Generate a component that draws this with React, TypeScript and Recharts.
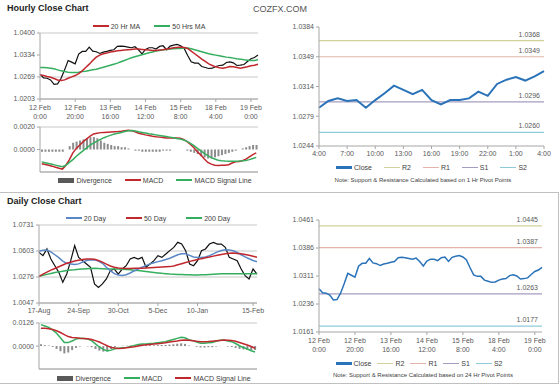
import React from 'react';
import {
  ComposedChart,
  Line,
  Bar,
  XAxis,
  YAxis,
  CartesianGrid,
  ReferenceLine,
} from 'recharts';

const FONT = '"Liberation Sans", Arial, sans-serif';
const AXIS = '#a6a6a6';
const GRID = '#c8c8c8';
const TEXT = '#595959';
const RED = '#c0282e';
const GREEN = '#36ae5f';
const BLUE = '#5a87c5';
const CLOSE_BLUE = '#2a73b8';

// ---- hourly (12 Feb 0:00 .. 19 Feb, every 2 hours) ----
const hourlyClose = [
  1.0277, 1.0266, 1.0265, 1.026, 1.0247, 1.0248, 1.0265, 1.029, 1.0318, 1.0313,
  1.0308, 1.0337, 1.0345, 1.0345, 1.0358, 1.0346, 1.0344, 1.0339, 1.0343, 1.0345,
  1.0348, 1.035, 1.036, 1.0361, 1.036, 1.0358, 1.0356, 1.0359, 1.035, 1.0338,
  1.0351, 1.0356, 1.0356, 1.0352, 1.036, 1.0362, 1.035, 1.0361, 1.0364, 1.0366,
  1.0362, 1.0354, 1.0333, 1.0314, 1.031, 1.031, 1.03, 1.0297, 1.0294, 1.0295,
  1.03, 1.0303, 1.0304, 1.0312, 1.0314, 1.0311, 1.0303, 1.0304, 1.0306, 1.0315,
  1.0323, 1.0327, 1.0334,
];
const hourlyMa20 = [
  1.0275, 1.0273, 1.027, 1.0268, 1.0264, 1.026, 1.0258, 1.026, 1.0265, 1.0269,
  1.0273, 1.0279, 1.0287, 1.0297, 1.0307, 1.0318, 1.0328, 1.0334, 1.0338, 1.034,
  1.0343, 1.0345, 1.0347, 1.0348, 1.0349, 1.035, 1.0351, 1.0352, 1.0352, 1.0351,
  1.035, 1.0349, 1.0348, 1.0348, 1.0349, 1.035, 1.0352, 1.0354, 1.0356, 1.0357,
  1.0358, 1.0357, 1.0354, 1.0346, 1.0338, 1.033, 1.0322, 1.0315, 1.0308, 1.0303,
  1.0299, 1.0296, 1.0295, 1.0297, 1.03, 1.0299, 1.0297, 1.0295, 1.0297, 1.0299,
  1.0302, 1.0304, 1.0307,
];
const hourlyMa50 = [
  1.0297, 1.0297, 1.0296, 1.0295, 1.0293, 1.029, 1.0287, 1.0285, 1.0283, 1.0282,
  1.0282, 1.0283, 1.0285, 1.0286, 1.0288, 1.029, 1.0292, 1.0295, 1.0298, 1.0301,
  1.0304, 1.0307, 1.031, 1.0314, 1.0318, 1.0322, 1.0326, 1.0329, 1.0332, 1.0335,
  1.0338, 1.0341, 1.0343, 1.0346, 1.0348, 1.035, 1.0351, 1.0352, 1.0353, 1.0354,
  1.0354, 1.0355, 1.0355, 1.0353, 1.035, 1.0347, 1.0344, 1.0341, 1.0338, 1.0336,
  1.0334, 1.0332, 1.033, 1.0328, 1.0327, 1.0325, 1.0323, 1.0322, 1.032, 1.0319,
  1.0318, 1.0318, 1.032,
];
const hourlyMacd = [
  -0.00126, -0.00133, -0.0014, -0.00148, -0.00157, -0.00166, -0.00174, -0.0014, -0.0009, -0.0003,
  0.0001, 0.0004, 0.0007, 0.00095, 0.0012, 0.00138, 0.00145, 0.0015, 0.00152, 0.00154,
  0.00156, 0.00158, 0.0016, 0.00163, 0.00167, 0.0017, 0.00166, 0.00158, 0.00145, 0.00137,
  0.0013, 0.00124, 0.00118, 0.00113, 0.0011, 0.00106, 0.00103, 0.00102, 0.00102, 0.00102,
  0.001, 0.0009, 0.0007, 0.00045, 0.00015, -0.0002, -0.0005, -0.00085, -0.00115, -0.0013,
  -0.0014, -0.00142, -0.00141, -0.0014, -0.00135, -0.0012, -0.0011, -0.00106, -0.001, -0.00085,
  -0.00065, -0.00045, -0.0003,
];
const hourlySignal = [
  -0.0011, -0.00117, -0.00124, -0.00131, -0.00139, -0.00146, -0.00153, -0.0014, -0.00115, -0.0009,
  -0.0006, -0.00035, -0.0001, 0.00015, 0.00038, 0.00058, 0.00075, 0.0009, 0.00105, 0.00117,
  0.00128, 0.00137, 0.00145, 0.00152, 0.0016, 0.00166, 0.00168, 0.00165, 0.00158, 0.00152,
  0.00146, 0.0014, 0.00135, 0.0013, 0.00125, 0.0012, 0.00115, 0.0011, 0.00104, 0.00098,
  0.00093, 0.00085, 0.00072, 0.00055, 0.00035, 0.0001, -0.00012, -0.00035, -0.00055, -0.00072,
  -0.00085, -0.00095, -0.001, -0.00103, -0.00105, -0.00105, -0.00104, -0.00103, -0.00101, -0.00098,
  -0.0009, -0.0008, -0.0007,
];
const hourlyDivergence = [
  -0.0002, -0.0002, -0.0002, -0.0002, -0.0002, -0.0002, -0.0002, 0.0, 0.0003, 0.0006,
  0.0007, 0.0008, 0.0009, 0.001, 0.0011, 0.0011, 0.001, 0.0008, 0.0006, 0.0005,
  0.0004, 0.0003, 0.0003, 0.0002, 0.0002, 0.0001, 0.0, -0.0001, -0.0001, -0.0002,
  -0.0002, -0.0002, -0.0002, -0.0002, -0.0002, -0.0001, -0.0001, -0.0001, 0.0, 0.0,
  0.0, 0.0, -0.0001, -0.0002, -0.0003, -0.0004, -0.0006, -0.0007, -0.0008, -0.0008,
  -0.0007, -0.0006, -0.0005, -0.0004, -0.0003, -0.0002, -0.0001, 0.0, 0.0001, 0.0002,
  0.0003, 0.0004, 0.0004,
];
const hourTicks = [0, 20, 40, 60, 80, 100, 120];
const hourTickDates = ['12 Feb', '12 Feb', '13 Feb', '14 Feb', '15 Feb', '18 Feb', '19 Feb'];
const hourTickTimes = ['0:00', '20:00', '16:00', '12:00', '8:00', '4:00', '0:00'];

// ---- last 24 hours, 1 Hr pivots ----
const lastDayClose = [
  1.0289, 1.0297, 1.03, 1.0297, 1.0298, 1.0289, 1.0298, 1.0306, 1.0315, 1.031,
  1.0305, 1.031, 1.0298, 1.0293, 1.0298, 1.0298, 1.03, 1.0308, 1.0303, 1.0317,
  1.0322, 1.0325, 1.0321, 1.0326, 1.0332,
];
const lastDayLabels = [
  '4:00', '5:00', '6:00', '7:00', '8:00', '9:00', '10:00', '11:00', '12:00', '13:00',
  '14:00', '15:00', '16:00', '17:00', '18:00', '19:00', '20:00', '21:00', '22:00', '23:00',
  '0:00', '1:00', '2:00', '3:00', '4:00',
];
const pivotNames = ['R2', 'R1', 'S1', 'S2'];
const pivotColors = ['#d2d29c', '#e2b4ac', '#a59cc0', '#8ecbd9'];
const hourPivots = [1.0368, 1.0349, 1.0296, 1.026];
const dayPivots = [1.0445, 1.0387, 1.0263, 1.0177];

// ---- daily (17 Aug .. 15 Feb) ----
const dailyClose = [
  1.0491, 1.0462, 1.0521, 1.0433, 1.0374, 1.0316, 1.0228, 1.0301, 1.0418, 1.055,
  1.0447, 1.0418, 1.0389, 1.036, 1.0214, 1.0184, 1.0214, 1.0258, 1.0331, 1.0345,
  1.0301, 1.0345, 1.0374, 1.0433, 1.0447, 1.0433, 1.0447, 1.036, 1.0389, 1.0418,
  1.0462, 1.0447, 1.0477, 1.0506, 1.0535, 1.0579, 1.0564, 1.0506, 1.0389, 1.0374,
  1.0418, 1.0506, 1.0521, 1.0564, 1.0579, 1.0564, 1.0564, 1.0535, 1.0447, 1.0433,
  1.0418, 1.0345, 1.0287, 1.0258, 1.0345, 1.0301,
];
const daily20 = [
  1.05, 1.051, 1.0512, 1.0495, 1.047, 1.0445, 1.0415, 1.0395, 1.0388, 1.0385,
  1.039, 1.0405, 1.042, 1.0427, 1.0425, 1.0415, 1.0395, 1.036, 1.033, 1.0305,
  1.0292, 1.0289, 1.0295, 1.031, 1.0328, 1.0345, 1.036, 1.0375, 1.039, 1.04,
  1.041, 1.0418, 1.0428, 1.044, 1.0455, 1.047, 1.0478, 1.0478, 1.0465, 1.045,
  1.0445, 1.0445, 1.045, 1.0462, 1.0478, 1.0495, 1.0508, 1.0514, 1.0512, 1.0505,
  1.049, 1.047, 1.0452, 1.0435, 1.042, 1.0408,
];
const daily50 = [
  1.0281, 1.03, 1.0318, 1.0335, 1.035, 1.0365, 1.038, 1.0395, 1.0405, 1.0415,
  1.0422, 1.0428, 1.0432, 1.0433, 1.043, 1.042, 1.0405, 1.0388, 1.0372, 1.036,
  1.0354, 1.0351, 1.035, 1.035, 1.0351, 1.0351, 1.0352, 1.0354, 1.0356, 1.0358,
  1.036, 1.0362, 1.0364, 1.0366, 1.0372, 1.0382, 1.0392, 1.0402, 1.0412, 1.042,
  1.0428, 1.0436, 1.0443, 1.045, 1.0458, 1.0465, 1.0472, 1.0478, 1.0483, 1.0485,
  1.0482, 1.0478, 1.0472, 1.0465, 1.0457, 1.0448,
];
const daily200 = [
  1.0281, 1.029, 1.0298, 1.0306, 1.0314, 1.032, 1.0326, 1.0332, 1.0336, 1.0339,
  1.0343, 1.0346, 1.0348, 1.035, 1.0351, 1.035, 1.0348, 1.0346, 1.0345, 1.0345,
  1.0345, 1.0344, 1.0341, 1.0338, 1.0335, 1.0331, 1.0327, 1.0323, 1.0319, 1.0315,
  1.0311, 1.0307, 1.0304, 1.0301, 1.0299, 1.0297, 1.0296, 1.0295, 1.0294, 1.0293,
  1.0293, 1.0294, 1.0295, 1.0297, 1.0299, 1.0301, 1.0303, 1.0304, 1.0304, 1.0304,
  1.0304, 1.0304, 1.0304, 1.0304, 1.0304, 1.0304,
];
const dailyMacd = [
  0.0117, 0.011, 0.0102, 0.0088, 0.007, 0.0045, 0.002, 0.0019, 0.0028, 0.0038,
  0.0043, 0.0042, 0.0038, 0.003, 0.0012, -0.0005, -0.0018, -0.0026, -0.0022, -0.0015,
  -0.0012, -0.0009, -0.0007, -0.0002, 0.0004, 0.0009, 0.0011, 0.0012, 0.0014, 0.0015,
  0.0018, 0.0021, 0.0024, 0.003, 0.0036, 0.0042, 0.0048, 0.0045, 0.0035, 0.003,
  0.0022, 0.0016, 0.0015, 0.0018, 0.002, 0.0026, 0.0032, 0.0033, 0.0028, 0.0024,
  0.0014, 0.0002, -0.0008, -0.0016, -0.0025, -0.0032,
];
const dailySignal = [
  0.0098, 0.0097, 0.0095, 0.0091, 0.0084, 0.0074, 0.0063, 0.0052, 0.0047, 0.0045,
  0.0043, 0.0042, 0.004, 0.0036, 0.003, 0.0022, 0.0012, 0.0002, -0.0007, -0.0011,
  -0.0013, -0.0012, -0.0009, -0.0006, -0.0003, 0.0001, 0.0005, 0.0007, 0.0009, 0.0011,
  0.0013, 0.0015, 0.0018, 0.0022, 0.0025, 0.0028, 0.0032, 0.0033, 0.0032, 0.0029,
  0.0026, 0.0024, 0.0024, 0.0025, 0.0027, 0.0029, 0.0031, 0.0033, 0.0032, 0.003,
  0.0026, 0.002, 0.0013, 0.0006, -0.0002, -0.0012,
];
const dailyDivergence = [
  0.001, 0.0005, 0.0003, -0.0005, -0.0015, -0.0028, -0.004, -0.0035, -0.0022, -0.001,
  -0.0003, 0.0, -0.0002, -0.0006, -0.0016, -0.0025, -0.003, -0.0028, -0.0016, -0.0006,
  0.0, 0.0002, 0.0002, 0.0003, 0.0005, 0.0006, 0.0006, 0.0005, 0.0005, 0.0004,
  0.0005, 0.0006, 0.0006, 0.0008, 0.001, 0.0013, 0.0015, 0.0012, 0.0003, 0.0,
  -0.0004, -0.0007, -0.0008, -0.0006, -0.0006, -0.0003, 0.0001, 0.0, -0.0003, -0.0005,
  -0.001, -0.0015, -0.0018, -0.002, -0.0022, -0.0022,
];
const dayTicks = [0, 10, 20, 30, 40, 54];
const dayTickLabels = ['17-Aug', '24-Sep', '30-Oct', '5-Dec', '10-Jan', '15-Feb'];
const dailyPriceTicks = [1.0047, 1.0275, 1.0503, 1.0731];
const dailyPriceTickLabels = ['1.0047', '1.0276', '1.0603', '1.0731'];

const hourlyRows = hourlyClose.map((c, i) => ({
  h: i * 2,
  close: c,
  ma20: hourlyMa20[i],
  ma50: hourlyMa50[i],
  macd: hourlyMacd[i],
  signal: hourlySignal[i],
  div: hourlyDivergence[i],
}));
const lastDayRows = lastDayClose.map((c, i) => ({ i, close: c }));
const dailyRows = dailyClose.map((c, i) => ({
  i,
  close: c,
  d20: daily20[i],
  d50: daily50[i],
  d200: daily200[i],
  macd: dailyMacd[i],
  signal: dailySignal[i],
  div: dailyDivergence[i],
}));

const tickStyle = { fontSize: 7, fill: TEXT };
const fmt4 = (v: number) => v.toFixed(4);

function HourTick(props: any) {
  const { x, y, payload } = props;
  const k = hourTicks.indexOf(payload.value);
  return (
    <text x={x} y={y} textAnchor="middle" fontSize={7} fill={TEXT}>
      <tspan x={x} dy={6}>{hourTickDates[k]}</tspan>
      <tspan x={x} dy={9}>{hourTickTimes[k]}</tspan>
    </text>
  );
}

type LegendItem = { label: string; color: string; kind?: 'box'; thick?: number };

function ChartLegend({ items, left, top, width, gap = 12 }: { items: LegendItem[]; left: number; top: number; width: number; gap?: number }) {
  return (
    <div
      style={{
        position: 'absolute', left, top, width, height: 10,
        display: 'flex', justifyContent: 'center', alignItems: 'center',
        fontSize: 7, color: '#404040', whiteSpace: 'nowrap',
      }}
    >
      {items.map((it, k) => (
        <span key={it.label} style={{ display: 'flex', alignItems: 'center', marginLeft: k ? gap : 0 }}>
          <span
            style={{
              display: 'inline-block', width: 16, marginRight: 2,
              height: it.kind === 'box' ? 5 : it.thick ?? 2, background: it.color,
            }}
          />
          {it.label}
        </span>
      ))}
    </div>
  );
}

const pivotLegend: LegendItem[] = [
  { label: 'Close', color: CLOSE_BLUE, thick: 3 },
  ...pivotNames.map((n, k) => ({ label: n, color: pivotColors[k], thick: 1 })),
];

function pivotLines(levels: number[]) {
  return levels.map((v, k) => (
    <ReferenceLine
      key={pivotNames[k]}
      y={v}
      stroke={pivotColors[k]}
      strokeWidth={1.2}
      label={(p: any) => (
        <text x={p.viewBox.x + p.viewBox.width - 4} y={p.viewBox.y - 4} textAnchor="end" fontSize={7} fill={TEXT}>
          {v.toFixed(4)}
        </text>
      )}
    />
  ));
}

const abs = (left: number, top: number): React.CSSProperties => ({ position: 'absolute', left, top });

export default function App() {
  return (
    <div style={{ position: 'absolute', left: 0, top: 0, width: 560, height: 386, background: '#fff', fontFamily: FONT, overflow: 'hidden' }}>
      <div style={{ ...abs(7, 3), fontSize: 9, fontWeight: 'bold', color: '#222' }}>Hourly Close Chart</div>
      <div style={{ ...abs(253, 4), fontSize: 9, color: '#555' }}>COZFX.COM</div>

      {/* hourly price */}
      <ChartLegend left={40} top={21} width={218} gap={14} items={[{ label: '20 Hr MA', color: RED }, { label: '50 Hrs MA', color: GREEN }]} />
      <div style={abs(0, 0)}>
        <ComposedChart width={268} height={122} data={hourlyRows} margin={{ top: 33, right: 10, bottom: 0, left: 0 }}>
          <CartesianGrid vertical={false} stroke={GRID} />
          <XAxis type="number" dataKey="h" domain={[0, 124]} ticks={hourTicks} interval={0} tick={<HourTick />} height={23} stroke={AXIS} tickSize={3} />
          <YAxis domain={[1.0203, 1.04]} ticks={[1.0203, 1.02687, 1.03343, 1.04]} tickFormatter={fmt4} width={40} stroke={AXIS} tick={tickStyle} tickSize={3} />
          <Line dataKey="close" stroke="#111" strokeWidth={1.2} dot={false} isAnimationActive={false} />
          <Line dataKey="ma50" stroke={GREEN} strokeWidth={1.5} dot={false} isAnimationActive={false} />
          <Line dataKey="ma20" stroke={RED} strokeWidth={1.5} dot={false} isAnimationActive={false} />
        </ComposedChart>
      </div>

      {/* hourly MACD */}
      <div style={abs(0, 120)}>
        <ComposedChart width={268} height={54} data={hourlyRows} margin={{ top: 7, right: 10, bottom: 0, left: 0 }}>
          <CartesianGrid vertical={false} stroke={GRID} />
          <XAxis type="number" dataKey="h" domain={[-1, 125]} tick={false} height={2} stroke={AXIS} />
          <YAxis domain={[-0.002, 0.002]} ticks={[-0.002, 0, 0.002]} tickFormatter={fmt4} width={40} stroke={AXIS} tick={tickStyle} tickSize={3} />
          <Bar dataKey="div" fill="#8c8c8c" barSize={2} isAnimationActive={false} />
          <Line dataKey="macd" stroke={RED} strokeWidth={1.5} dot={false} isAnimationActive={false} />
          <Line dataKey="signal" stroke={GREEN} strokeWidth={1.5} dot={false} isAnimationActive={false} />
        </ComposedChart>
      </div>
      <ChartLegend left={40} top={175} width={230} gap={13} items={[
        { label: 'Divergence', color: '#595959', kind: 'box' },
        { label: 'MACD', color: RED },
        { label: 'MACD Signal Line', color: GREEN },
      ]} />

      {/* last 24 hours with 1 Hr pivots */}
      <div style={abs(279, 0)}>
        <ComposedChart width={275} height={158} data={lastDayRows} margin={{ top: 27, right: 10, bottom: 0, left: 0 }}>
          <XAxis type="number" dataKey="i" domain={[0, 24]} ticks={[0, 3, 6, 9, 12, 15, 18, 21, 24]} interval={0}
            tickFormatter={(v: number) => lastDayLabels[v]} height={12} stroke={AXIS} tick={tickStyle} tickSize={3} />
          <YAxis domain={[1.0244, 1.0384]} ticks={[1.0244, 1.0279, 1.0314, 1.0349, 1.0384]} tickFormatter={fmt4} width={40} stroke={AXIS} tick={tickStyle} tickSize={3} />
          {pivotLines(hourPivots)}
          <Line dataKey="close" stroke={CLOSE_BLUE} strokeWidth={2} dot={false} isAnimationActive={false} />
        </ComposedChart>
      </div>
      <ChartLegend left={319} top={162} width={225} gap={12} items={pivotLegend} />
      <div style={{ ...abs(279, 177), width: 288, textAlign: 'center', fontSize: 6, color: '#404040' }}>
        Note: Support &amp; Resistance Calculated based on 1 Hr Pivot Points
      </div>

      {/* frame of the lower half */}
      <div style={{ ...abs(0, 192), width: 558, height: 190, borderTop: '1px solid #c0c0c0', borderBottom: '1px solid #c0c0c0', borderRight: '1px solid #c0c0c0' }} />

      <div style={{ ...abs(7, 196), fontSize: 9, fontWeight: 'bold', color: '#222' }}>Daily Close Chart</div>

      {/* daily price */}
      <ChartLegend left={39} top={213} width={218} gap={20} items={[
        { label: '20 Day', color: BLUE },
        { label: '50 Day', color: RED },
        { label: '200 Day', color: GREEN },
      ]} />
      <div style={abs(0, 200)}>
        <ComposedChart width={267} height={116} data={dailyRows} margin={{ top: 25, right: 10, bottom: 0, left: 0 }}>
          <CartesianGrid vertical={false} stroke={GRID} />
          <XAxis type="number" dataKey="i" domain={[0, 55]} ticks={dayTicks} interval={0}
            tickFormatter={(v: number) => dayTickLabels[dayTicks.indexOf(v)]} height={13} stroke={AXIS} tick={tickStyle} tickSize={3} />
          <YAxis domain={[1.0047, 1.0731]} ticks={dailyPriceTicks} tickFormatter={(_v: number, k: number) => dailyPriceTickLabels[k]} width={39} stroke={AXIS} tick={tickStyle} tickSize={3} />
          <Line dataKey="close" stroke="#111" strokeWidth={1.2} dot={false} isAnimationActive={false} />
          <Line dataKey="d200" stroke={GREEN} strokeWidth={1.5} dot={false} isAnimationActive={false} />
          <Line dataKey="d20" stroke={BLUE} strokeWidth={1.5} dot={false} isAnimationActive={false} />
          <Line dataKey="d50" stroke={RED} strokeWidth={1.5} dot={false} isAnimationActive={false} />
        </ComposedChart>
      </div>

      {/* daily MACD */}
      <div style={abs(0, 316)}>
        <ComposedChart width={267} height={55} data={dailyRows} margin={{ top: 7, right: 10, bottom: 0, left: 0 }}>
          <CartesianGrid vertical={false} stroke={GRID} />
          <XAxis type="number" dataKey="i" domain={[-0.5, 55.5]} tick={false} height={2} stroke={AXIS} />
          <YAxis domain={[-0.0125, 0.0126]} ticks={[-0.0125, 0, 0.0126]} tickFormatter={fmt4} width={39} stroke={AXIS} tick={tickStyle} tickSize={3} />
          <Bar dataKey="div" fill="#8c8c8c" barSize={2} isAnimationActive={false} />
          <Line dataKey="macd" stroke={GREEN} strokeWidth={1.5} dot={false} isAnimationActive={false} />
          <Line dataKey="signal" stroke={RED} strokeWidth={1.5} dot={false} isAnimationActive={false} />
        </ComposedChart>
      </div>
      <ChartLegend left={39} top={373} width={230} gap={13} items={[
        { label: 'Divergence', color: '#595959', kind: 'box' },
        { label: 'MACD', color: GREEN },
        { label: 'MACD Signal Line', color: RED },
      ]} />

      {/* hourly close with 24 Hr pivots */}
      <div style={abs(279, 200)}>
        <ComposedChart width={273} height={154} data={hourlyRows} margin={{ top: 20, right: 10, bottom: 0, left: 0 }}>
          <XAxis type="number" dataKey="h" domain={[0, 124]} ticks={hourTicks} interval={0} tick={<HourTick />} height={22} stroke={AXIS} tickSize={3} />
          <YAxis domain={[1.0161, 1.0461]} ticks={[1.0161, 1.0236, 1.0311, 1.0386, 1.0461]} tickFormatter={fmt4} width={40} stroke={AXIS} tick={tickStyle} tickSize={3} />
          {pivotLines(dayPivots)}
          <Line dataKey="close" stroke={CLOSE_BLUE} strokeWidth={1.5} dot={false} isAnimationActive={false} />
        </ComposedChart>
      </div>
      <ChartLegend left={319} top={358} width={200} gap={6} items={pivotLegend} />
      <div style={{ ...abs(279, 372), width: 288, textAlign: 'center', fontSize: 6, color: '#404040' }}>
        Note: Support &amp; Resistance Calculated based on 24 Hr Pivot Points
      </div>
    </div>
  );
}
